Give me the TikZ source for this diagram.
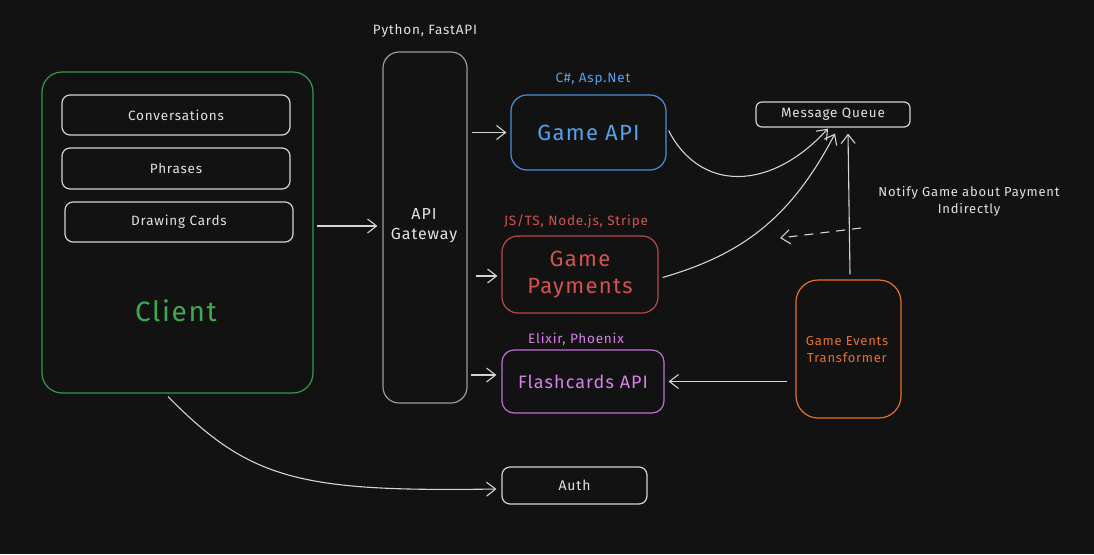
\documentclass[tikz,border=0pt]{standalone}
\usepackage{fontspec}
\setmainfont[LetterSpace=6]{Fira Sans}
\usetikzlibrary{arrows.meta,calc}
\definecolor{bg}{HTML}{121212}
\definecolor{wline}{HTML}{D4D4D4}
\definecolor{wtext}{HTML}{E2E2E2}
\definecolor{gline}{HTML}{2F9E44}
\definecolor{gtext}{HTML}{3DAA50}
\definecolor{bline}{HTML}{4A8FD6}
\definecolor{btext}{HTML}{55A2EA}
\definecolor{rline}{HTML}{B84848}
\definecolor{rtext}{HTML}{D25252}
\definecolor{pline}{HTML}{C46ED8}
\definecolor{ptext}{HTML}{D880EC}
\definecolor{oline}{HTML}{E8702A}
\definecolor{gray1}{HTML}{9A9A9A}
\tikzset{
  box/.style={draw, line width=1.2pt, rounded corners=#1, inner sep=0pt, align=center},
  box/.default=10pt,
  conn/.style={draw=wline, line width=1.1pt, -{Straight Barb[length=9pt,width=14pt,line width=1.1pt]}},
  lbl/.style={font=\fontsize{13.5}{15}\selectfont, align=center},
}
\begin{document}
\begin{tikzpicture}[x=1pt,y=-1pt]
\fill[bg] (0,0) rectangle (1094,554);
\useasboundingbox (0,0) rectangle (1094,554);

% Client
\node[box=20pt, draw=gline, minimum width=271pt, minimum height=321pt] (client) at (177.5,232.5) {};
\node[text=gtext, font=\fontsize{28}{30}\selectfont] (clientlbl) at (176,311) {Client};
\node[box=8pt, draw=wline, text=wtext, minimum width=228pt, minimum height=40pt, font=\fontsize{13.5}{15}\selectfont] (conv) at (176,115) {Conversations};
\node[box=8pt, draw=wline, text=wtext, minimum width=228pt, minimum height=41pt, font=\fontsize{13.5}{15}\selectfont] (phr) at (176,168.5) {Phrases};
\node[box=8pt, draw=wline, text=wtext, minimum width=228pt, minimum height=40pt, font=\fontsize{13.5}{15}\selectfont] (draw) at (179,222) {Drawing Cards};

% Gateway
\node[box=16pt, draw=gray1, minimum width=84pt, minimum height=351pt] (gw) at (425,227.5) {};
\node[text=wtext, font=\fontsize{16}{20}\selectfont, align=center] (gwlbl) at (424,226) {API\\Gateway};
\node[text=wtext, lbl] (gwtech) at (425,31) {Python, FastAPI};

% Services
\node[box=16pt, draw=bline, text=btext, minimum width=155pt, minimum height=75pt, font=\fontsize{22}{25}\selectfont] (game) at (588.5,132.5) {Game API};
\node[text=btext, lbl] (gametech) at (593,79) {C\#, Asp.Net};

\node[box=16pt, draw=rline, text=rtext, minimum width=156pt, minimum height=77pt, font=\fontsize{22}{27}\selectfont] (pay) at (580,274.5) {Game\\Payments};
\node[text=rtext, lbl] (paytech) at (576,221) {JS/TS, Node.js, Stripe};

\node[box=12pt, draw=pline, text=ptext, minimum width=162pt, minimum height=63pt, font=\fontsize{18}{20}\selectfont] (flash) at (583,381.5) {Flashcards API};
\node[text=ptext, lbl] (flashtech) at (576,339) {Elixir, Phoenix};

\node[box=8pt, draw=wline, text=wtext, minimum width=145pt, minimum height=37pt, font=\fontsize{14}{16}\selectfont] (auth) at (574.5,485.5) {Auth};

\node[box=6pt, draw=wline, text=wtext, minimum width=154pt, minimum height=25pt, font=\fontsize{13.5}{15}\selectfont] (mq) at (833,114.5) {Message Queue};

\node[box=22pt, draw=oline, minimum width=105pt, minimum height=138pt] (tr) at (848.5,349) {};
\node[text=oline, font=\fontsize{13}{17}\selectfont, align=center] (trlbl) at (847,350) {Game Events\\Transformer};

\node[text=wtext, font=\fontsize{13}{17}\selectfont, align=center] (note) at (969,201) {Notify Game about Payment\\Indirectly};

% Connectors
\draw[conn, shorten <=3pt, shorten >=5pt] ([yshift=6.5pt]client.east) -- ([yshift=6.5pt]client.east -| gw.west);
\draw[conn, shorten <=4pt, shorten >=4pt] (gw.east |- game.west) -- (game.west);
\draw[conn, shorten <=8pt, shorten >=4pt] ([yshift=-1.5pt]gw.east |- pay.west) -- ([yshift=-1.5pt]pay.west);
\draw[conn, shorten <=3pt, shorten >=5pt] ([yshift=6.5pt]gw.east |- flash.west) -- ([yshift=6.5pt]flash.west);

\draw[conn] ([xshift=2pt,yshift=2pt]game.east) .. controls (700,192) and (770,192) .. ([xshift=-5pt,yshift=-1pt]mq.south);
\draw[conn] ([xshift=4pt,yshift=-3pt]pay.east) .. controls (740,255) and (790,220) .. ([xshift=2pt,yshift=-6pt]mq.south);
\draw[conn] ([xshift=1.5pt,yshift=5pt]tr.north) -- ([xshift=15pt,yshift=-6pt]mq.south);
\draw[conn, shorten <=8pt, shorten >=4pt] (tr.west |- flash.east) -- (flash.east);
\draw[conn] ([xshift=-9.5pt,yshift=-3pt]client.south) .. controls (250,480) and (300,492) .. ([xshift=-5pt,yshift=-3.5pt]auth.west);

\coordinate (dashstart) at (861,228);
\coordinate (dashend) at (780,238);
\draw[conn, dashed, dash pattern=on 9pt off 7pt] (dashstart) -- (dashend);
\end{tikzpicture}
\end{document}
